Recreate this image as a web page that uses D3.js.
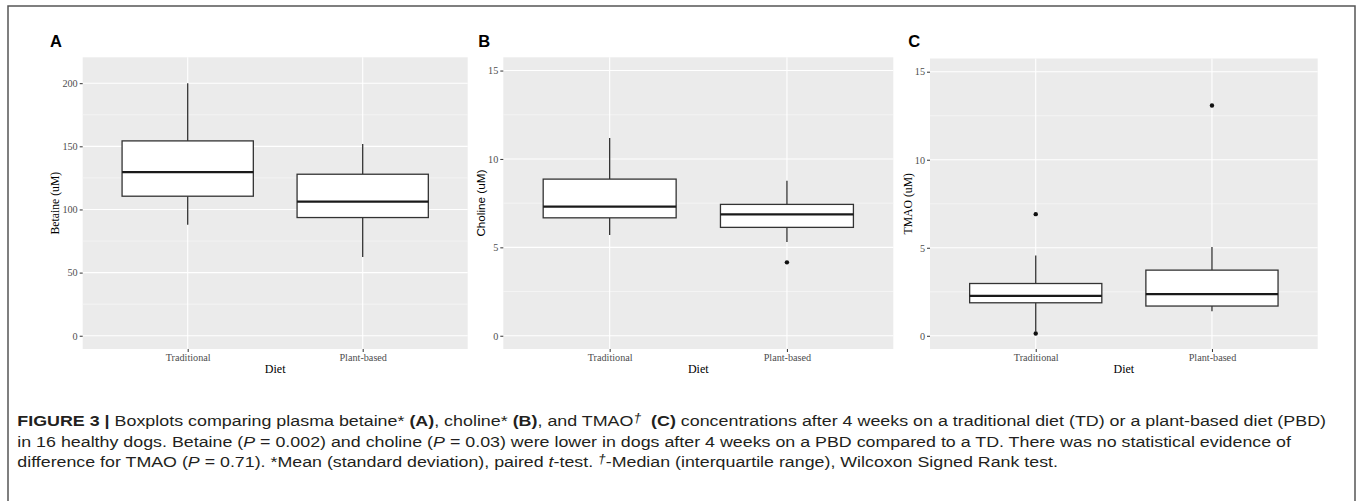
<!DOCTYPE html>
<html>
<head>
<meta charset="utf-8">
<script src="https://cdn.jsdelivr.net/npm/d3@7"></script>
<style>
  body { margin: 0; background: #fff; }
  svg { display: block; }
</style>
</head>
<body>
<div id="chart"></div>
<script>
// Data
const diets = ['Traditional', 'Plant-based'];

// [lower whisker, Q1, median, Q3, upper whisker] per diet
const betaineBox = [[87.8, 110.5, 129.5, 154.3, 200], [62.3, 93.6, 106.2, 127.9, 151.9]];
const betaineOut = [[], []];
const betaineTicks = [0, 50, 100, 150, 200];
const betaineRange = [0, 210];

const cholineBox = [[5.7, 6.67, 7.3, 8.86, 11.18], [5.3, 6.13, 6.86, 7.43, 8.77]];
const cholineOut = [[], [4.15]];
const cholineTicks = [0, 5, 10, 15];
const cholineRange = [0, 15];

const tmaoBox = [[0.25, 1.875, 2.27, 2.97, 4.56], [1.4, 1.69, 2.37, 3.73, 5.04]];
const tmaoOut = [[0.13, 6.91], [13.08]];
const tmaoTicks = [0, 5, 10, 15];
const tmaoRange = [0, 15];

const W = 1357;
const H = 501;

const svg = d3
  .select('#chart')
  .append('svg')
  .attr('width', W)
  .attr('height', H);

// outer frame
svg
  .append('rect')
  .attr('x', 8)
  .attr('y', 6)
  .attr('width', 1347)
  .attr('height', 520)
  .attr('fill', 'none')
  .attr('stroke', '#555')
  .attr('stroke-width', 1.5);

function drawPanel(p) {
  const g = svg.append('g');

  // ggplot style 5% expansion
  const pad = (p.range[1] - p.range[0]) * 0.05;
  const y = d3
    .scaleLinear()
    .domain([p.range[0] - pad, p.range[1] + pad])
    .range([p.b, p.t]);
  const x = d3.scalePoint().domain(diets).range([p.l, p.r]).padding(0.6);
  const boxW = x.step() * 0.75;

  // panel background
  g.append('rect')
    .attr('x', p.l)
    .attr('y', p.t)
    .attr('width', p.r - p.l)
    .attr('height', p.b - p.t)
    .attr('fill', '#ebebeb');

  // minor grid
  const minor = d3.pairs(p.ticks).map((d) => (d[0] + d[1]) / 2);
  g.selectAll('.minor')
    .data(minor)
    .join('line')
    .attr('x1', p.l)
    .attr('x2', p.r)
    .attr('y1', (d) => y(d))
    .attr('y2', (d) => y(d))
    .attr('stroke', '#fafafa')
    .attr('stroke-width', 0.6);

  // major grid
  g.selectAll('.major')
    .data(p.ticks)
    .join('line')
    .attr('x1', p.l)
    .attr('x2', p.r)
    .attr('y1', (d) => y(d))
    .attr('y2', (d) => y(d))
    .attr('stroke', '#fff')
    .attr('stroke-width', 1.1);

  g.selectAll('.vgrid')
    .data(diets)
    .join('line')
    .attr('x1', (d) => x(d))
    .attr('x2', (d) => x(d))
    .attr('y1', p.t)
    .attr('y2', p.b)
    .attr('stroke', '#fff')
    .attr('stroke-width', 1.1);

  // axes
  const yAxis = g
    .append('g')
    .attr('transform', `translate(${p.l},0)`)
    .call(d3.axisLeft(y).tickValues(p.ticks).tickSize(3).tickPadding(2));
  const xAxis = g
    .append('g')
    .attr('transform', `translate(0,${p.b})`)
    .call(d3.axisBottom(x).tickSize(3).tickPadding(2));
  [yAxis, xAxis].forEach((a) => {
    a.select('.domain').remove();
    a.selectAll('.tick line').attr('stroke', '#333').attr('stroke-width', 1);
    a.selectAll('.tick text')
      .attr('fill', '#4d4d4d')
      .style('font-family', '"Liberation Serif", "DejaVu Serif", serif')
      .style('font-size', '10.2px');
  });

  // boxes
  const boxes = g
    .selectAll('.box')
    .data(p.box.map((s, i) => ({ diet: diets[i], s })))
    .join('g');

  boxes
    .append('line')
    .attr('x1', (d) => x(d.diet))
    .attr('x2', (d) => x(d.diet))
    .attr('y1', (d) => y(d.s[3]))
    .attr('y2', (d) => y(d.s[4]))
    .attr('stroke', '#333')
    .attr('stroke-width', 1.3);
  boxes
    .append('line')
    .attr('x1', (d) => x(d.diet))
    .attr('x2', (d) => x(d.diet))
    .attr('y1', (d) => y(d.s[1]))
    .attr('y2', (d) => y(d.s[0]))
    .attr('stroke', '#333')
    .attr('stroke-width', 1.3);
  boxes
    .append('rect')
    .attr('x', (d) => x(d.diet) - boxW / 2)
    .attr('y', (d) => y(d.s[3]))
    .attr('width', boxW)
    .attr('height', (d) => y(d.s[1]) - y(d.s[3]))
    .attr('fill', '#fff')
    .attr('stroke', '#333')
    .attr('stroke-width', 1.3);
  boxes
    .append('line')
    .attr('x1', (d) => x(d.diet) - boxW / 2)
    .attr('x2', (d) => x(d.diet) + boxW / 2)
    .attr('y1', (d) => y(d.s[2]))
    .attr('y2', (d) => y(d.s[2]))
    .attr('stroke', '#1a1a1a')
    .attr('stroke-width', 2.2);

  // outliers
  const pts = [];
  p.out.forEach((arr, i) => arr.forEach((v) => pts.push({ diet: diets[i], v })));
  g.selectAll('.out')
    .data(pts)
    .join('circle')
    .attr('cx', (d) => x(d.diet))
    .attr('cy', (d) => y(d.v))
    .attr('r', 2.2)
    .attr('fill', '#111');

  // titles
  g.append('text')
    .attr('x', (p.l + p.r) / 2)
    .attr('y', 372.7)
    .attr('text-anchor', 'middle')
    .style('font-family', '"Liberation Serif", "DejaVu Serif", serif')
    .style('font-size', '12px')
    .attr('fill', '#000')
    .text('Diet');

  g.append('text')
    .attr('transform', `translate(${p.titleX},${(p.t + p.b) / 2}) rotate(-90)`)
    .attr('text-anchor', 'middle')
    .attr('dy', '0.35em')
    .style('font-family', p.titleFont)
    .style('font-size', '11.7px')
    .attr('fill', '#000')
    .text(p.title);

  g.append('text')
    .attr('x', p.labelX)
    .attr('y', 46.7)
    .style('font-family', '"Liberation Sans", Arial, sans-serif')
    .style('font-weight', 'bold')
    .style('font-size', '16.5px')
    .attr('fill', '#000')
    .text(p.label);
}

const serif = '"Liberation Serif", "DejaVu Serif", serif';
const sans = '"Liberation Sans", Arial, sans-serif';

drawPanel({
  l: 82.7, r: 467.7, t: 57.3, b: 349,
  box: betaineBox, out: betaineOut, ticks: betaineTicks, range: betaineRange,
  title: 'Betaine (uM)', titleX: 55, titleFont: serif, label: 'A', labelX: 50,
});
drawPanel({
  l: 503.3, r: 893.3, t: 57.3, b: 349,
  box: cholineBox, out: cholineOut, ticks: cholineTicks, range: cholineRange,
  title: 'Choline (uM)', titleX: 481, titleFont: sans, label: 'B', labelX: 478.3,
});
drawPanel({
  l: 930, r: 1317.7, t: 58.5, b: 349,
  box: tmaoBox, out: tmaoOut, ticks: tmaoTicks, range: tmaoRange,
  title: 'TMAO (uM)', titleX: 908, titleFont: serif, label: 'C', labelX: 908.3,
});

// caption
const captionLines = [
  {
    y: 426, end: 1326,
    parts: [
      ['FIGURE 3 | ', 'b'], ['Boxplots comparing plasma betaine* ', ''], ['(A)', 'b'],
      [', choline* ', ''], ['(B)', 'b'], [', and TMAO', ''], ['\u2020', 'sup'], ['  ', ''],
      ['(C)', 'b'],
      [' concentrations after 4 weeks on a traditional diet (TD) or a plant-based diet (PBD)', ''],
    ],
  },
  {
    y: 446.8, end: 1291,
    parts: [
      ['in 16 healthy dogs. Betaine (', ''], ['P', 'i'], [' = 0.002) and choline (', ''], ['P', 'i'],
      [' = 0.03) were lower in dogs after 4 weeks on a PBD compared to a TD. There was no statistical evidence of', ''],
    ],
  },
  {
    y: 467.4, end: 1058,
    parts: [
      ['difference for TMAO (', ''], ['P', 'i'], [' = 0.71). *Mean (standard deviation), paired ', ''],
      ['t', 'i'], ['-test. ', ''], ['\u2020', 'sup'], ['-Median (interquartile range), Wilcoxon Signed Rank test.', ''],
    ],
  },
];

captionLines.forEach((line) => {
  const t = svg
    .append('text')
    .attr('x', 17.3)
    .attr('y', line.y)
    .attr('textLength', line.end - 17.3)
    .attr('lengthAdjust', 'spacingAndGlyphs')
    .style('font-family', sans)
    .style('font-size', '15.5px')
    .attr('fill', '#231f20')
    .attr('xml:space', 'preserve')
    .style('white-space', 'pre');
  let raised = false;
  line.parts.forEach(([txt, kind]) => {
    const s = t.append('tspan').text(txt);
    if (kind === 'b') s.style('font-weight', 'bold');
    if (kind === 'i') s.style('font-style', 'italic');
    if (kind === 'sup') {
      s.style('font-style', 'italic').style('font-size', '12px').attr('dy', -4.5);
      raised = true;
    } else if (raised) {
      s.attr('dy', 4.5);
      raised = false;
    }
  });
});
</script>
</body>
</html>
